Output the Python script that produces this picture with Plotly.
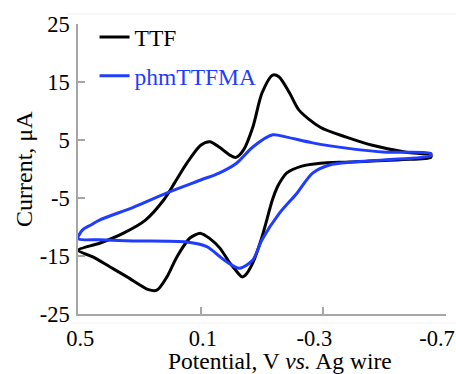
import plotly.graph_objects as go

# ---- data (potential in V, current in uA) ----
ttf_potential = [0.50, 0.43, 0.35, 0.28, 0.22, 0.185, 0.145, 0.10, 0.07, 0.04, 0.005, -0.015,
                 -0.04, -0.07, -0.10, -0.135, -0.155, -0.19, -0.22, -0.29, -0.375, -0.46, -0.57, -0.65,
                 -0.65, -0.55, -0.385, -0.29, -0.23, -0.18, -0.163, -0.15, -0.134, -0.10, -0.07, -0.046,
                 -0.035, -0.015, 0.005, 0.038, 0.07, 0.10, 0.135, 0.178, 0.21, 0.243, 0.27, 0.34,
                 0.395, 0.45, 0.50]
ttf_current = [-14.0, -12.8, -11.0, -8.8, -5.3, -2.4, 1.0, 4.1, 4.7, 3.8, 2.4, 2.0,
               3.3, 7.2, 13.1, 16.2, 15.9, 13.1, 10.2, 7.2, 5.5, 4.1, 2.9, 2.4,
               2.0, 1.6, 1.2, 1.0, 0.5, -0.7, -1.9, -3.1, -5.3, -11.7, -16.2, -18.3,
               -18.6, -17.5, -16.2, -13.6, -12.0, -11.1, -11.9, -15.2, -18.6, -20.9, -20.8, -18.6,
               -16.9, -15.2, -14.0]

pm_potential = [0.50, 0.485, 0.46, 0.43, 0.32, 0.21, 0.10, 0.04, -0.017, -0.07, -0.135, -0.18,
                -0.265, -0.375, -0.505, -0.65,
                -0.65, -0.505, -0.395, -0.32, -0.265, -0.222, -0.212, -0.157, -0.10, -0.07,
                -0.027, 0.015, 0.04, 0.08, 0.145, 0.32, 0.43, 0.50]
pm_current = [-12.0, -10.5, -9.7, -8.8, -6.6, -4.1, -1.9, -0.7, 1.0, 3.8, 5.9, 5.5,
              4.5, 3.6, 2.9, 2.7,
              2.3, 1.6, 1.2, 0.7, -0.7, -3.6, -4.3, -7.6, -12.2, -15.7,
              -17.1, -16.0, -15.0, -13.4, -12.6, -12.4, -12.2, -12.0]

x_tick_vals = [0.5, 0.1, -0.3, -0.7]
x_tick_text = ["\u20030.5", "\u20030.1", "-0.3", "-0.7"]
y_tick_vals = [-25, -15, -5, 5, 15, 25]
y_tick_text = ["-25", "-15", "-5", "5", "15", "25"]

BLUE = "#1f3cff"
FONT = "Liberation Serif"
AXIS = "#a6a6a6"

fig = go.Figure()
fig.add_trace(go.Scatter(x=ttf_potential, y=ttf_current, mode="lines", name="TTF",
                         line=dict(color="black", width=3, shape="spline", smoothing=0.8),
                         legendgroup="a"))
fig.add_trace(go.Scatter(x=pm_potential, y=pm_current, mode="lines",
                         name=f"<span style='color:{BLUE}'>phmTTFMA</span>",
                         line=dict(color=BLUE, width=3, shape="spline", smoothing=0.8),
                         legendgroup="b"))

PL, PR, PT, PB = 78, 446, 24, 314
pw, ph = PR - PL, PB - PT

fig.update_layout(
    width=456, height=374,
    margin=dict(l=PL, r=456 - PR, t=PT, b=374 - PB, autoexpand=False),
    paper_bgcolor="white", plot_bgcolor="white",
    font=dict(family=FONT, size=22, color="black"),
    showlegend=True,
    legend=dict(x=0.045, y=1.03, xanchor="left", yanchor="top",
                bgcolor="rgba(0,0,0,0)", font=dict(size=23.5, family=FONT),
                tracegroupgap=5, itemwidth=30),
    xaxis=dict(range=[0.5, -0.7], tickvals=x_tick_vals, ticktext=x_tick_text,
               showline=True, linecolor=AXIS, linewidth=1.5, ticks="inside",
               ticklen=7, tickcolor=AXIS, tickwidth=1.5, showgrid=False, zeroline=False,
               ticklabelstandoff=3, ticklabelshift=9, ticklabeloverflow="allow",
               automargin=False, tickfont=dict(size=22.5)),
    yaxis=dict(range=[-25, 25], tickvals=y_tick_vals, ticktext=y_tick_text,
               showline=True, linecolor=AXIS, linewidth=1.5, ticks="inside",
               ticklen=7, tickcolor=AXIS, tickwidth=1.5, showgrid=False, zeroline=False,
               ticklabelstandoff=2, automargin=False, tickfont=dict(size=22.5)),
    shapes=[
        dict(type="line", xref="paper", yref="paper", x0=(67 - PL) / pw, x1=(456 - PL) / pw,
             y0=(PB - 14) / ph, y1=(PB - 14) / ph, line=dict(color="#eeeeee", width=1)),
        dict(type="line", xref="paper", yref="paper", x0=(70 - PL) / pw, x1=(456 - PL) / pw,
             y0=(PB - 323) / ph, y1=(PB - 323) / ph, line=dict(color="#f3f3f3", width=1)),
    ],
    annotations=[
        dict(text="Potential, V <i>vs.</i> Ag wire", xref="paper", yref="paper",
             x=(280 - PL) / pw, y=-(361 - PB) / ph, xanchor="center", yanchor="middle",
             showarrow=False, font=dict(size=23.5, family=FONT)),
        dict(text="Current, μA", xref="paper", yref="paper",
             x=-(PL - 24) / pw, y=0.5, xanchor="center", yanchor="middle",
             textangle=-90, showarrow=False, font=dict(size=24, family=FONT)),
    ],
)

fig.write_html("out.html")
